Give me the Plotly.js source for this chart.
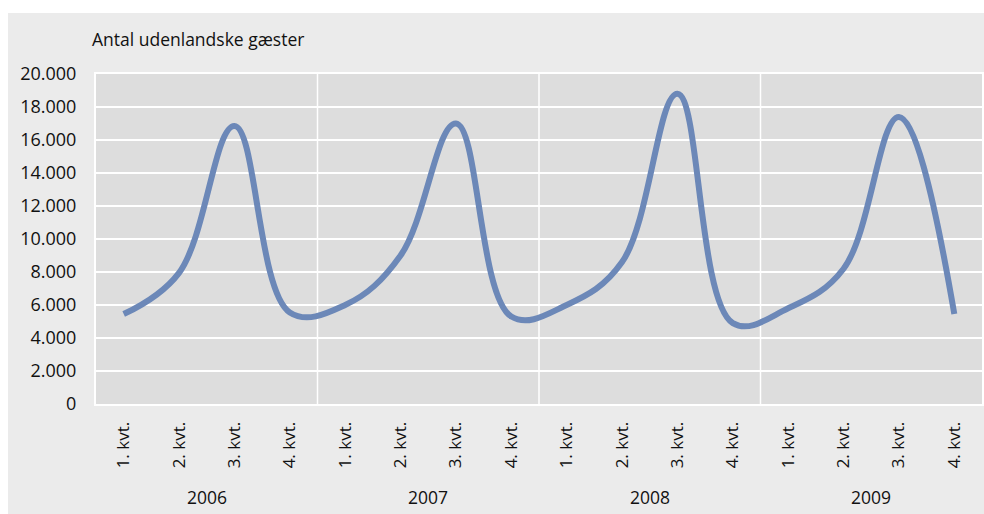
<!DOCTYPE html>
<html>
<head>
<meta charset="utf-8">
<script src="https://cdn.plot.ly/plotly-3.0.1.min.js"></script>
<style>
  html, body { margin: 0; padding: 0; background: #ffffff; width: 984px; height: 514px; overflow: hidden; }
  #chart { position: absolute; left: 8px; top: 13px; width: 976px; height: 501px; }
</style>
</head>
<body>
<div id="chart"></div>
<script>
const years = ["2006", "2007", "2008", "2009"];
const quarters = ["1. kvt.", "2. kvt.", "3. kvt.", "4. kvt."];
const guests = [
  5450, 7950, 16850, 5550,
  6000, 9000, 17000, 5300,
  6000, 8600, 18800, 4900,
  5800, 8200, 17400, 5450
];
const yTicks = [0, 2000, 4000, 6000, 8000, 10000, 12000, 14000, 16000, 18000, 20000];

const xIdx = [];
const xLabels = [];
years.forEach((y, yi) => quarters.forEach((q, qi) => { xIdx.push(yi * quarters.length + qi); xLabels.push(q); }));

const font = "'Open Sans', 'Noto Sans', sans-serif";
const txt = '#111111';

const shapes = [];
for (let i = 1; i < years.length; i++) {
  shapes.push({
    type: 'line', xref: 'x', yref: 'paper',
    x0: i * quarters.length - 0.5, x1: i * quarters.length - 0.5, y0: 0, y1: 1,
    line: { color: '#ffffff', width: 1.5 }, layer: 'below'
  });
}

const annotations = years.map((y, yi) => ({
  text: y, xref: 'x', yref: 'paper',
  x: yi * quarters.length + (quarters.length - 1) / 2, y: 0,
  yanchor: 'middle', xanchor: 'center', yshift: -93,
  showarrow: false, font: { family: font, size: 17.5, color: txt }
}));

const trace = {
  x: xIdx, y: guests, type: 'scatter', mode: 'lines',
  line: { shape: 'spline', smoothing: 1.1, color: '#6c88b8', width: 6 },
  hoverinfo: 'skip'
};

const layout = {
  width: 976, height: 501,
  paper_bgcolor: '#ebebeb', plot_bgcolor: '#dddddd',
  margin: { l: 88, r: 2, t: 61, b: 110 },
  separators: ',.',
  showlegend: false,
  title: {
    text: 'Antal udenlandske gæster',
    x: 84 / 976, xanchor: 'left', xref: 'container',
    y: 1 - 27 / 501, yanchor: 'middle', yref: 'container',
    font: { family: font, size: 17.5, color: txt }
  },
  xaxis: {
    type: 'linear', range: [-0.5, xIdx.length - 0.5],
    tickmode: 'array', tickvals: xIdx, ticktext: xLabels,
    tickangle: -90, showgrid: false, zeroline: false,
    showline: true, linecolor: '#ffffff', linewidth: 2, mirror: true,
    ticks: '', ticklabelstandoff: 9,
    tickfont: { family: font, size: 17, color: txt }
  },
  yaxis: {
    range: [0, 20000], tickmode: 'array', tickvals: yTicks,
    tickformat: ',d', showgrid: true, gridcolor: '#ffffff', gridwidth: 2,
    zeroline: false, showline: true, linecolor: '#ffffff', linewidth: 2, mirror: true,
    ticks: '', ticklabelstandoff: 14,
    tickfont: { family: font, size: 18, color: txt }
  },
  shapes: shapes,
  annotations: annotations
};

Plotly.newPlot('chart', [trace], layout, { displayModeBar: false, staticPlot: true });
</script>
</body>
</html>
